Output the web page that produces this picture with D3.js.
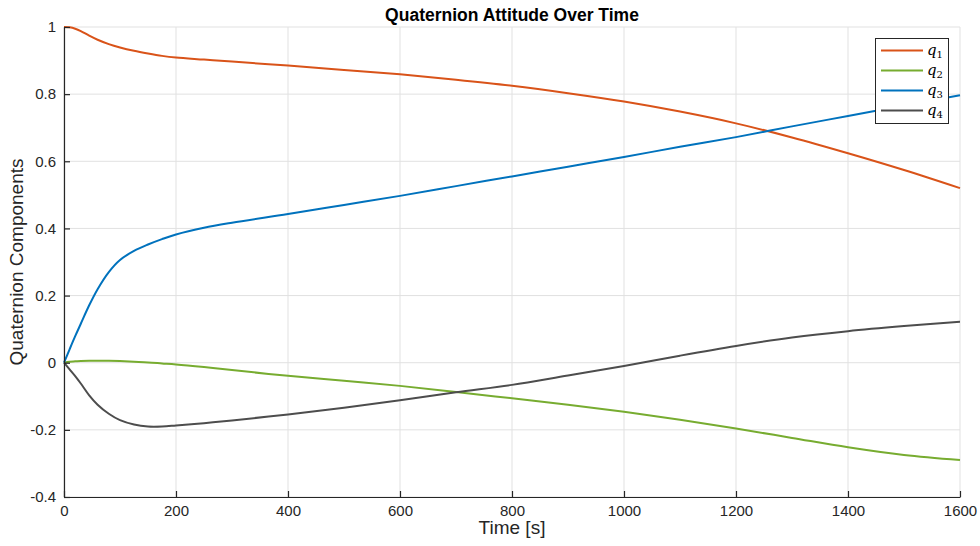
<!DOCTYPE html>
<html>
<head>
<meta charset="utf-8">
<script src="https://cdn.jsdelivr.net/npm/d3@7"></script>
<style>
  html, body { margin: 0; padding: 0; background: #fff; }
  svg { display: block; font-family: "Liberation Sans", Arial, Helvetica, sans-serif; }
</style>
</head>
<body>
<svg id="chart" width="980" height="546"></svg>
<script>
// Sample times [s]
const time = [0, 10, 20, 30, 45, 60, 80, 100, 125, 150, 175, 200, 250, 300, 400, 500, 600, 700, 800, 900, 1000, 1100, 1200, 1300, 1400, 1500, 1600];

// Quaternion components
const q1 = [1.000, 0.999, 0.995, 0.988, 0.974, 0.962, 0.949, 0.939, 0.929, 0.921, 0.914, 0.909, 0.903, 0.897, 0.885, 0.872, 0.859, 0.843, 0.825, 0.803, 0.778, 0.748, 0.713, 0.671, 0.624, 0.574, 0.520];
const q2 = [0.000, 0.003, 0.004, 0.005, 0.006, 0.006, 0.006, 0.005, 0.003, 0.001, -0.002, -0.005, -0.013, -0.022, -0.039, -0.054, -0.069, -0.087, -0.106, -0.125, -0.146, -0.170, -0.196, -0.224, -0.252, -0.275, -0.290];
const q3 = [0.000, 0.040, 0.079, 0.116, 0.171, 0.219, 0.270, 0.306, 0.333, 0.352, 0.368, 0.382, 0.402, 0.417, 0.443, 0.470, 0.497, 0.526, 0.555, 0.584, 0.613, 0.643, 0.672, 0.704, 0.735, 0.766, 0.797];
const q4 = [0.000, -0.020, -0.040, -0.062, -0.097, -0.125, -0.152, -0.171, -0.184, -0.190, -0.190, -0.187, -0.180, -0.172, -0.154, -0.134, -0.112, -0.088, -0.066, -0.038, -0.010, 0.021, 0.050, 0.075, 0.094, 0.109, 0.122];

const seriesNames = ["1", "2", "3", "4"];
const seriesValues = [q1, q2, q3, q4];
const seriesColors = ["#D95319", "#77AC30", "#0072BD", "#4D4D4D"];

const xTicks = [0, 200, 400, 600, 800, 1000, 1200, 1400, 1600];
const yTicks = [-0.4, -0.2, 0, 0.2, 0.4, 0.6, 0.8, 1];

const titleText = "Quaternion Attitude Over Time";
const xLabelText = "Time [s]";
const yLabelText = "Quaternion Components";

const margin = { left: 64, right: 20, top: 27, bottom: 49 };
const W = 980, H = 546;
const svg = d3.select("#chart");

const x = d3.scaleLinear().domain([0, 1600]).range([margin.left, W - margin.right]);
const y = d3.scaleLinear().domain([-0.4, 1]).range([H - margin.bottom, margin.top]);

const axisColor = "#262626";
const gridColor = "#e1e1e1";

// Grid
const grid = svg.append("g");
grid.selectAll("line.gx").data(xTicks).join("line")
  .attr("x1", d => x(d)).attr("x2", d => x(d))
  .attr("y1", y(-0.4)).attr("y2", y(1))
  .attr("stroke", gridColor).attr("stroke-width", 1);
grid.selectAll("line.gy").data(yTicks).join("line")
  .attr("x1", x(0)).attr("x2", x(1600))
  .attr("y1", d => y(d)).attr("y2", d => y(d))
  .attr("stroke", gridColor).attr("stroke-width", 1);

// Lines
const line = d3.line().curve(d3.curveCatmullRom.alpha(0.5));
seriesValues.forEach((vals, i) => {
  svg.append("path")
    .datum(time.map((t, k) => [x(t), y(vals[k])]))
    .attr("d", line)
    .attr("fill", "none")
    .attr("stroke", seriesColors[i])
    .attr("stroke-width", 2)
    .attr("stroke-linejoin", "round");
});

// Axes (ticks pointing inward)
const fmt = d => String(d);
const xAxis = svg.append("g")
  .attr("transform", `translate(0,${y(-0.4)})`)
  .call(d3.axisBottom(x).tickValues(xTicks).tickSizeInner(-6).tickSizeOuter(0).tickPadding(8).tickFormat(fmt));
const yAxis = svg.append("g")
  .attr("transform", `translate(${x(0)},0)`)
  .call(d3.axisLeft(y).tickValues(yTicks).tickSizeInner(-6).tickSizeOuter(0).tickPadding(8).tickFormat(fmt));
[xAxis, yAxis].forEach(g => {
  g.select(".domain").attr("stroke", axisColor).attr("stroke-width", 1.2);
  g.selectAll(".tick line").attr("stroke", axisColor).attr("stroke-width", 1.2);
  g.selectAll(".tick text").attr("fill", axisColor).style("font-size", "15px").style("font-family", "Liberation Sans, Arial, sans-serif");
});

// Title and axis labels
svg.append("text")
  .attr("x", (x(0) + x(1600)) / 2).attr("y", 21)
  .attr("text-anchor", "middle")
  .attr("font-weight", "bold").attr("font-size", 17.5)
  .attr("fill", "#000")
  .text(titleText);
svg.append("text")
  .attr("x", (x(0) + x(1600)) / 2).attr("y", 534)
  .attr("text-anchor", "middle")
  .attr("font-size", 19).attr("fill", axisColor)
  .text(xLabelText);
svg.append("text")
  .attr("transform", `translate(23,${(y(-0.4) + y(1)) / 2}) rotate(-90)`)
  .attr("text-anchor", "middle")
  .attr("font-size", 19).attr("fill", axisColor)
  .text(yLabelText);

// Legend
const lg = svg.append("g").attr("transform", "translate(875,38)");
lg.append("rect")
  .attr("x", 0.5).attr("y", 0.5).attr("width", 73).attr("height", 85)
  .attr("fill", "#fff").attr("stroke", axisColor).attr("stroke-width", 1);
seriesNames.forEach((name, i) => {
  const yy = 12.5 + i * 20;
  lg.append("line")
    .attr("x1", 6).attr("x2", 48).attr("y1", yy).attr("y2", yy)
    .attr("stroke", seriesColors[i]).attr("stroke-width", 2);
  const t = lg.append("text")
    .attr("x", 52).attr("y", yy + 4)
    .attr("font-family", "DejaVu Serif, Liberation Serif, serif")
    .attr("fill", "#000");
  t.append("tspan").attr("font-style", "italic").attr("font-size", 15).text("q");
  t.append("tspan").attr("font-size", 10).attr("dy", 3).text(name);
});
</script>
</body>
</html>
